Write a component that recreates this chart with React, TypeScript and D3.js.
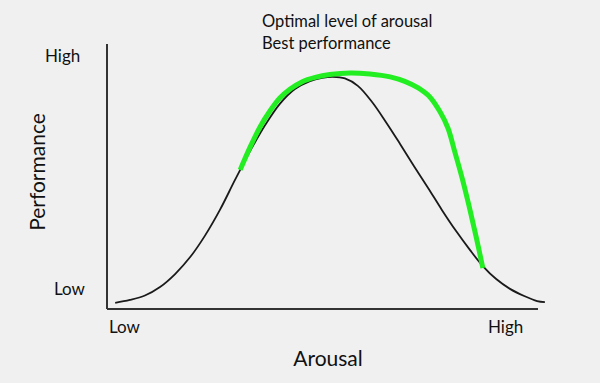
import React from "react";
import * as d3 from "d3";

const baseX = [1.9, 5.3, 8.8, 12.3, 15.8, 19.3, 22.7, 26.2, 29.7, 33.2, 36.7, 40.1, 43.6, 47.1, 49.9, 52.4, 55.2, 58.2, 61.5, 64.7, 68.0, 71.2, 74.5, 77.7, 81.0, 84.2, 87.2, 90.3, 93.5, 96.8, 99.8, 101.6];
const baseY = [2.3, 3.4, 5.1, 8.3, 13.2, 19.6, 27.6, 37.4, 48.7, 59.6, 69.4, 77.4, 83.0, 86.0, 87.2, 87.6, 87.0, 84.2, 78.1, 70.6, 62.3, 54.0, 45.7, 37.4, 29.4, 22.3, 16.2, 11.3, 7.6, 4.9, 3.0, 2.6];

const optX = [30.9, 33.2, 35.5, 37.8, 40.1, 42.5, 45.2, 48.3, 51.7, 56.4, 61.0, 65.7, 69.1, 72.2, 74.9, 77.3, 79.1, 80.7, 82.4, 84.0, 85.6, 87.2];
const optY = [52.5, 61.1, 68.7, 74.7, 79.6, 83.0, 85.7, 87.4, 88.5, 89.1, 88.7, 87.6, 85.9, 83.4, 80.0, 74.3, 68.3, 59.3, 49.4, 38.9, 27.6, 15.5];

const yTickLabels = ["Low", "High"];
const xTickLabels = ["Low", "High"];
const annotation = ["Optimal level of arousal", "Best performance"];

const W = 600, H = 383;
const FONT = "Lato, 'Open Sans', sans-serif";

export default function App() {
  const x = d3.scaleLinear().domain([0, 100]).range([107, 538]);
  const y = d3.scaleLinear().domain([0, 100]).range([309, 44]);
  const line = d3.line<[number, number]>().x(d => x(d[0])).y(d => y(d[1])).curve(d3.curveCatmullRom.alpha(0.5));
  const base = baseX.map((v, i) => [v, baseY[i]] as [number, number]);
  const opt = optX.map((v, i) => [v, optY[i]] as [number, number]);
  return (
    <svg width={W} height={H} style={{ position: "fixed", left: 0, top: 0 }} fontFamily={FONT}>
      <rect width={W} height={H} fill="#f0f0f0" />
      <line x1={x(0)} x2={x(0)} y1={y(100)} y2={y(0)} stroke="#333" strokeWidth={2} />
      <line x1={x(0)} x2={x(100)} y1={y(0)} y2={y(0)} stroke="#333" strokeWidth={2} />
      <path d={line(base) || ""} fill="none" stroke="#1a1a1a" strokeWidth={1.8} />
      <path d={line(opt) || ""} fill="none" stroke="#22ee22" strokeWidth={5} strokeLinecap="butt" />
      <text x={54} y={295} fontSize={17} fill="#111">{yTickLabels[0]}</text>
      <text x={45} y={62} fontSize={17} fill="#111">{yTickLabels[1]}</text>
      <text x={109} y={333} fontSize={17} fill="#111">{xTickLabels[0]}</text>
      <text x={488} y={333} fontSize={17} fill="#111">{xTickLabels[1]}</text>
      <text x={328} y={366} fontSize={21} textAnchor="middle" fill="#111">Arousal</text>
      <text transform="translate(45,172) rotate(-90)" fontSize={21} textAnchor="middle" fill="#111">Performance</text>
      <text x={262} y={27} fontSize={16.5} fill="#111">{annotation[0]}</text>
      <text x={262} y={49} fontSize={16.5} fill="#111">{annotation[1]}</text>
    </svg>
  );
}
